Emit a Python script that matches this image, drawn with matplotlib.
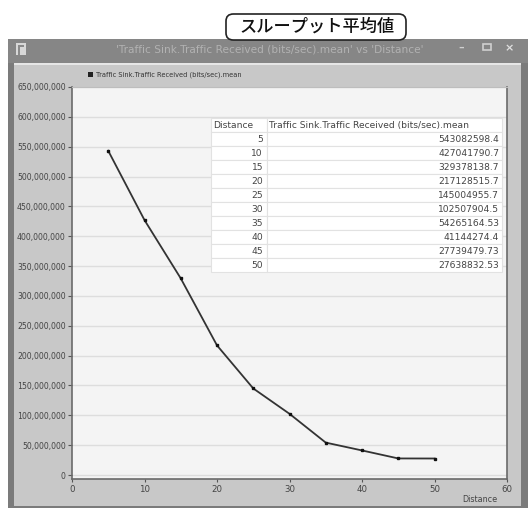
import matplotlib
matplotlib.use("Agg")
import matplotlib.pyplot as plt
from matplotlib.patches import Rectangle, FancyBboxPatch
from matplotlib.ticker import FuncFormatter

plt.rcParams['font.family'] = ['DejaVu Sans', 'Noto Sans CJK JP']

# ---- data ----
distance = [5, 10, 15, 20, 25, 30, 35, 40, 45, 50]
throughput = [543082598.4, 427041790.7, 329378138.7, 217128515.7, 145004955.7,
              102507904.5, 54265164.53, 41144274.4, 27739479.73, 27638832.53]
series_name = "Traffic Sink.Traffic Received (bits/sec).mean"
x_name = "Distance"
window_title = "'Traffic Sink.Traffic Received (bits/sec).mean' vs 'Distance'"
banner = "スループット平均値"
y_ticks = list(range(0, 650000001, 50000000))
x_ticks = [0, 10, 20, 30, 40, 50, 60]

W, H = 528, 508
fig = plt.figure(figsize=(W / 100, H / 100), dpi=100)
fig.patch.set_facecolor('white')


def rect(x0, y0, x1, y1, z=-5, **kw):
    """pixel box, y measured from top"""
    fig.add_artist(Rectangle((x0 / W, 1 - y1 / H), (x1 - x0) / W, (y1 - y0) / H,
                             transform=fig.transFigure, zorder=z, **kw))


# window frame
rect(8, 39, 528, 508, facecolor='#7b7b7b', edgecolor='none')
rect(8, 39, 528, 63, facecolor='#868686', edgecolor='none')
rect(14, 63, 521, 506, facecolor='#c8c8c8', edgecolor='none')
rect(14, 63, 521, 65, facecolor='#e6e6e6', edgecolor='none')
# app icon
rect(16, 43, 26, 55, facecolor='#d8d8d8', edgecolor='none')
rect(18, 45, 20, 55, facecolor='#8a8a8a', edgecolor='none')
rect(18, 45, 24, 47, facecolor='#8a8a8a', edgecolor='none')

fig.text(270 / W, 1 - 49 / H, window_title, ha='center', va='center',
         fontsize=7.6, color='#b2b2b2')
fig.text(461 / W, 1 - 48 / H, '\u2013', ha='center', va='center', fontsize=8, color='#d0d0d0', fontweight='bold')
rect(483, 44, 491, 50, facecolor='none', edgecolor='#d0d0d0', linewidth=1.2, z=2)
fig.text(509 / W, 1 - 48 / H, '\u00d7', ha='center', va='center', fontsize=8, color='#e0e0e0', fontweight='bold')

# banner
bx0, by0, bx1, by1 = 226, 14, 406, 40
fig.add_artist(FancyBboxPatch((bx0 / W, 1 - by1 / H), (bx1 - bx0) / W, (by1 - by0) / H,
                              boxstyle='round,pad=0,rounding_size=0.014',
                              transform=fig.transFigure, facecolor='white',
                              edgecolor='#222222', linewidth=1.2, zorder=8))
fig.text(317 / W, 1 - 26.5 / H, banner, ha='center', va='center', fontsize=12.4,
         family=['Noto Sans CJK JP', 'DejaVu Sans'], fontweight='medium', color='#111111', zorder=10)

# legend
rect(88, 72, 93, 77, facecolor='#222222', edgecolor='none', z=2)
fig.text(96 / W, 1 - 74.5 / H, series_name, ha='left', va='center', fontsize=4.8, color='#333333')

# ---- axes ----
ax_l, ax_r, ax_t, ax_b = 72, 507, 87, 479
ax = fig.add_axes([ax_l / W, 1 - ax_b / H, (ax_r - ax_l) / W, (ax_b - ax_t) / H])
ax.set_facecolor('#f4f4f4')
ax.plot(distance, throughput, color='#333333', linewidth=1.3, marker='s', markersize=2,
        markerfacecolor='#111111', markeredgecolor='#111111', zorder=3)
ax.set_xlim(0, 60)
ax.set_ylim(-6.7e6, 650e6)
ax.set_yticks(y_ticks)
ax.set_xticks(x_ticks)
ax.yaxis.set_major_formatter(FuncFormatter(lambda v, p: f"{int(round(v)):,}"))
ax.grid(axis='y', color='#dddddd', linewidth=1.0)
ax.grid(axis='x', visible=False)
ax.tick_params(axis='y', labelsize=5.6, colors='#555555', labelcolor='#444444',
               length=3, width=0.8, pad=1.5)
ax.tick_params(axis='x', labelsize=6.2, colors='#555555', labelcolor='#444444',
               length=2.5, width=0.8, pad=1.5)
for s in ['left', 'bottom', 'right']:
    ax.spines[s].set_color('#6a6a6a')
    ax.spines[s].set_linewidth(1.2)
ax.spines['top'].set_color('#bdbdbd')

fig.text(480 / W, 1 - 500 / H, x_name, ha='center', va='center', fontsize=5.8, color='#444444')

# ---- table ----
tbl_l, tbl_r, tbl_t, tbl_b = 211, 502, 118, 272
x0 = (tbl_l - ax_l) / (ax_r - ax_l)
wfrac = (tbl_r - tbl_l) / (ax_r - ax_l)
y0 = (ax_b - tbl_b) / (ax_b - ax_t)
hfrac = (tbl_b - tbl_t) / (ax_b - ax_t)
c0 = 56 / (tbl_r - tbl_l)
cell_text = [[str(d), f"{v}"] for d, v in zip(distance, throughput)]
tbl = ax.table(cellText=cell_text, colLabels=[x_name, series_name], cellLoc='right',
               colLoc='left', colWidths=[c0, 1 - c0], bbox=[x0, y0, wfrac, hfrac], zorder=5)
tbl.auto_set_font_size(False)
tbl.set_fontsize(6.6)
for (r, c), cell in tbl.get_celld().items():
    cell.set_facecolor('white')
    cell.set_edgecolor('#e2e2e2')
    cell.set_linewidth(0.8)
    cell.get_text().set_color('#444444')
    if r == 0:
        cell.PAD = 0.04 if c == 0 else 0.01
    else:
        cell.PAD = 0.07 if c == 0 else 0.012

fig.savefig('out.png', dpi=100, facecolor=fig.get_facecolor())
